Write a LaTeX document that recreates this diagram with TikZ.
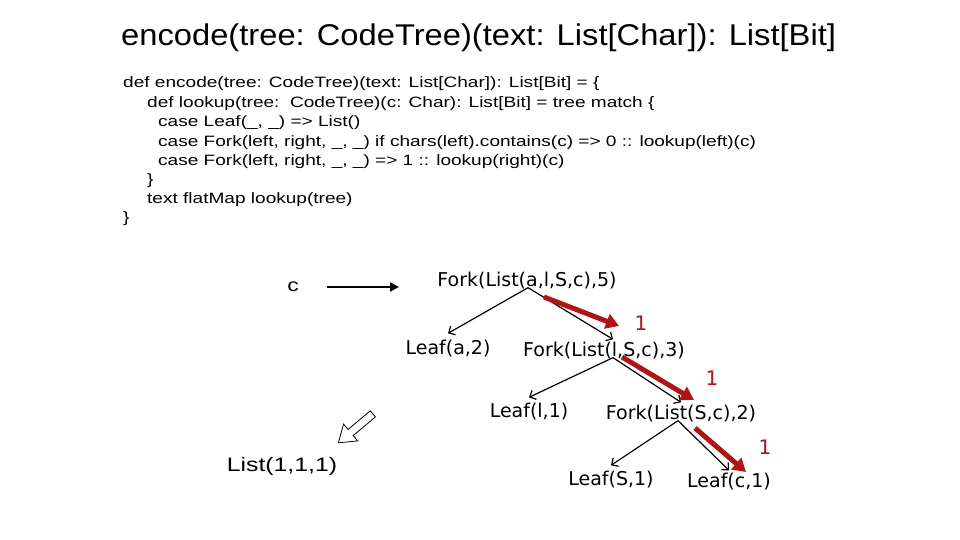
\documentclass[tikz,border=0pt]{standalone}
\usepackage{fontspec}
\setmainfont{Liberation Sans}
\newfontfamily\titlefont[FakeStretch=1.09]{Liberation Sans}
\newfontfamily\codefont[FakeStretch=1.27]{Liberation Sans}
\newfontfamily\treefont{DejaVu Sans}
\usetikzlibrary{arrows.meta}
\definecolor{bitred}{HTML}{B01515}
\begin{document}
\begin{tikzpicture}[x=1pt,y=-1pt,
  codeline/.style={anchor=west,inner sep=0pt,font=\codefont\fontsize{15}{18}\selectfont},
  tnode/.style={inner sep=1pt,font=\treefont\fontsize{19}{22}\selectfont},
  tedge/.style={-{Straight Barb[length=5pt,width=10pt]},line width=1.2pt},
  redarrow/.style={draw=bitred,line width=5pt,-{Triangle[length=13pt,width=15pt]}},
  bitlabel/.style={text=bitred,inner sep=0pt,font=\treefont\fontsize{20}{22}\selectfont}]
\useasboundingbox[fill=white] (0,0) rectangle (960,540);
% title
\node[anchor=west,inner sep=0pt,font=\titlefont\fontsize{30}{34}\selectfont] (title) at (121,38) {encode(tree: CodeTree)(text: List[Char]): List[Bit]};
% code
\node[codeline] (l1) at (123,84) {def encode(tree: CodeTree)(text: List[Char]): List[Bit] = \{};
\node[codeline] (l2) at (147,104) {def lookup(tree:\ \ CodeTree)(c: Char): List[Bit] = tree match \{};
\node[codeline] (l3) at (158,123) {case Leaf(\_, \_) => List()};
\node[codeline] (l4) at (158,143) {case Fork(left, right, \_, \_) if chars(left).contains(c) => 0 :: lookup(left)(c)};
\node[codeline] (l5) at (158,162) {case Fork(left, right, \_, \_) => 1 :: lookup(right)(c)};
\node[codeline] (l6) at (147,181) {\}};
\node[codeline] (l7) at (147,200) {text flatMap lookup(tree)};
\node[codeline] (l8) at (123,219) {\}};
% input arrow
\node[inner sep=0pt,font=\codefont\fontsize{18}{20}\selectfont] (c) at (293,287) {c};
\coordinate (ca) at (327,287);
\coordinate (cb) at (399,287);
\draw[line width=2.6pt,-{Triangle[length=9pt,width=9pt]}] (ca) -- (cb);
% tree
\node[tnode] (root) at (527,281) {Fork(List(a,l,S,c),5)};
\node[tnode] (la) at (448,349) {Leaf(a,2)};
\node[tnode] (f3) at (604,351) {Fork(List(l,S,c),3)};
\node[tnode] (ll) at (529,412) {Leaf(l,1)};
\node[tnode] (f2) at (681,414) {Fork(List(S,c),2)};
\node[tnode] (ls) at (611,480) {Leaf(S,1)};
\node[tnode] (lc) at (729,482) {Leaf(c,1)};
\draw[tedge] ([xshift=1,yshift=3]root.south) -- ([yshift=6]la.north);
\draw[tedge] ([xshift=1,yshift=3]root.south) -- ([xshift=9,yshift=2]f3.north);
\draw[tedge] ([xshift=9,yshift=3]f3.south) -- ([yshift=5]ll.north);
\draw[tedge] ([xshift=9,yshift=3]f3.south) -- ([yshift=2]f2.north);
\draw[tedge] ([xshift=-3,yshift=3]f2.south) -- ([yshift=5]ls.north);
\draw[tedge] ([xshift=-3,yshift=3]f2.south) -- ([yshift=2]lc.north);
% red bit arrows
\coordinate (r1a) at (544,297); \coordinate (r1b) at (619,326);
\coordinate (r2a) at (622,357); \coordinate (r2b) at (694,400);
\coordinate (r3a) at (695,428); \coordinate (r3b) at (746,472);
\draw[redarrow] (r1a) -- (r1b);
\draw[redarrow] (r2a) -- (r2b);
\draw[redarrow] (r3a) -- (r3b);
\node[bitlabel] (b1) at (641,323) {1};
\node[bitlabel] (b2) at (712,378) {1};
\node[bitlabel] (b3) at (765,447) {1};
% hollow block arrow
\begin{scope}[shift={(356,428)},rotate=-140]
\draw[line width=0.8pt,fill=white] (-22,-4) -- (7,-4) -- (7,-11) -- (23,0) -- (7,11) -- (7,4) -- (-22,4) -- cycle;
\end{scope}
\node[inner sep=0pt,font=\codefont\fontsize{19.5}{22}\selectfont] (res) at (282,466) {List(1,1,1)};
\end{tikzpicture}
\end{document}
